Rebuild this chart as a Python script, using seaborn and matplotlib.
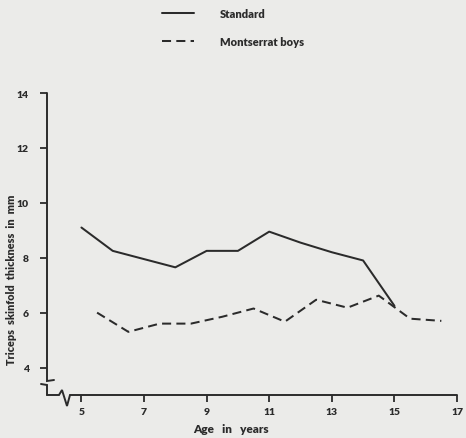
import matplotlib
matplotlib.use("Agg")
import matplotlib.pyplot as plt
from matplotlib.lines import Line2D
import pandas as pd
import seaborn as sns

# Triceps skinfold thickness by age
standard_age = [5, 6, 8, 9, 10, 11, 12, 13, 14, 15]
standard_mm = [9.1, 8.25, 7.65, 8.25, 8.25, 8.95, 8.55, 8.2, 7.9, 6.25]

montserrat_age = [5.5, 6.5, 7.5, 8.5, 9.5, 10.5, 11.5, 12.5, 13.5, 14.5, 15.5, 16.5]
montserrat_mm = [6.0, 5.3, 5.6, 5.6, 5.85, 6.15, 5.67, 6.47, 6.18, 6.62, 5.78, 5.7]

series_names = ["Standard", "Montserrat boys"]
x_ticks = [5, 7, 9, 11, 13, 15, 17]
y_ticks = [4, 6, 8, 10, 12, 14]

df = pd.concat([
    pd.DataFrame({"age": standard_age, "mm": standard_mm, "group": series_names[0]}),
    pd.DataFrame({"age": montserrat_age, "mm": montserrat_mm, "group": series_names[1]}),
], ignore_index=True)

BG = "#ebebe9"
INK = "#2b2b2b"

sns.set_theme(style="ticks")
plt.rcParams["font.family"] = ["Lato", "DejaVu Sans"]
plt.rcParams["font.weight"] = "heavy"

fig = plt.figure(figsize=(4.66, 4.39), dpi=100, facecolor=BG)
W, H = 466, 439
ax_l, ax_b, ax_w, ax_h = 47, 43, 410, 302
ax = fig.add_axes([ax_l / W, ax_b / H, ax_w / W, ax_h / H])
ax.set_facecolor(BG)

sns.lineplot(
    data=df, x="age", y="mm", style="group", style_order=series_names,
    dashes={series_names[0]: "", series_names[1]: (4.5, 2.6)},
    color=INK, linewidth=1.45, ax=ax, legend=True,
)

handles, labels = ax.get_legend_handles_labels()
ax.get_legend().remove()
leg = fig.legend(
    handles, labels, loc="upper left", bbox_to_anchor=(152 / W, 1.0 + 1 / H),
    frameon=False, prop={"size": 8, "weight": "heavy"}, handlelength=2.9,
    handletextpad=2.3, labelspacing=1.5, labelcolor=INK,
)

ax.set_xlim(3.9, 17)
ax.set_ylim(3.0, 14)
ax.set_xticks(x_ticks)
ax.set_yticks(y_ticks)
ax.set_xlabel("")
ax.set_ylabel("")
ax.tick_params(direction="out", length=5, width=1.3, colors=INK,
               labelsize=7.5, pad=4)
ax.tick_params(axis="y", pad=8)
for lab in ax.get_xticklabels() + ax.get_yticklabels():
    lab.set_fontweight("heavy")

sns.despine(ax=ax)
ax.spines["bottom"].set_visible(False)
ax.spines["left"].set_visible(False)

# axes drawn by hand so the broken-scale marks can be included
px = lambda dx: dx / ax_w
py = lambda dy: dy / ax_h
axis_kw = dict(color=INK, linewidth=1.4, transform=ax.transAxes,
               clip_on=False, solid_joinstyle="miter")
# left axis with a step break near its foot
ax.add_line(Line2D([0, 0, px(7)], [1, py(14), py(15)], **axis_kw))
ax.add_line(Line2D([px(-6), 0, 0], [py(11), py(10), 0], **axis_kw))
# bottom axis with a zigzag break
ax.add_line(Line2D(
    [0, px(12), px(15), px(20), px(23), 1],
    [0, 0, py(5), py(-11), 0, 0], **axis_kw))

fig.text(231 / W, 1 - 430 / H, "Age   in   years", ha="center", va="center",
         fontsize=8.5, fontweight="heavy", color=INK)
fig.text(12 / W, 1 - 280 / H, "Triceps  skinfold  thickness  in  mm",
         ha="center", va="center", rotation=90, fontsize=7.8,
         fontweight="heavy", color=INK)

fig.savefig("out.png", dpi=100, facecolor=BG)
